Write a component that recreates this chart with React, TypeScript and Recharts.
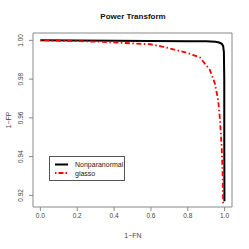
import { LineChart, Line, XAxis, YAxis, ReferenceArea } from "recharts";

const npnX = [0, 0.2, 0.4, 0.6, 0.8, 0.9, 0.95, 0.97, 0.985, 0.992, 0.996, 0.998, 0.998, 0.999];
const npnY = [1.0, 0.9999, 0.9998, 0.9997, 0.9996, 0.9995, 0.9993, 0.9989, 0.9982, 0.997, 0.994, 0.98, 0.95, 0.917];

const glassoX = [0, 0.1, 0.2, 0.32, 0.486, 0.595, 0.667, 0.794, 0.866, 0.92, 0.947, 0.965, 0.975, 0.984, 0.989, 0.992];
const glassoY = [1.0, 0.9998, 0.9996, 0.9993, 0.9985, 0.998, 0.9967, 0.9936, 0.9912, 0.9847, 0.9778, 0.9691, 0.9588, 0.945, 0.9313, 0.9157];

const xTicks = [0, 0.2, 0.4, 0.6, 0.8, 1.0];
const yTicks = [0.92, 0.94, 0.96, 0.98, 1.0];

const npnData = npnX.map((x, i) => ({ x, y: npnY[i] }));
const glassoData = glassoX.map((x, i) => ({ x, y: glassoY[i] }));

const font = "'Liberation Sans', Arial, sans-serif";

function YTick({ x, y, payload }: any) {
  const cx = x - 4;
  return (
    <text
      x={cx}
      y={y}
      transform={`rotate(-90, ${cx}, ${y})`}
      textAnchor="middle"
      fontSize={6.5}
      fill="#444"
      fontFamily={font}
    >
      {Number(payload.value).toFixed(2)}
    </text>
  );
}

function LegendBox() {
  return (
    <div
      style={{
        position: "absolute",
        left: 49,
        top: 156,
        width: 76,
        height: 25,
        border: "1px solid #555",
        boxSizing: "border-box",
        background: "white",
      }}
    >
      <svg width={74} height={23} style={{ position: "absolute", left: 0, top: 0 }}>
        <line x1={5} x2={18} y1={7.5} y2={7.5} stroke="#000" strokeWidth={2} />
        <line x1={5} x2={18} y1={16} y2={16} stroke="#ff0000" strokeWidth={1.8} strokeDasharray="1.5 2 5 2" />
        <text x={25} y={10} fontSize={7} fill="#222" fontFamily={font}>Nonparanormal</text>
        <text x={25} y={18.5} fontSize={7} fill="#222" fontFamily={font}>glasso</text>
      </svg>
    </div>
  );
}

export default function App() {
  return (
    <div style={{ position: "absolute", left: 0, top: 0, width: 249, height: 249, background: "white" }}>
      <LineChart width={249} height={249} margin={{ top: 33, right: 17, bottom: 12, left: 3 }}>
        <text x={133} y={19} textAnchor="middle" fontSize={8} fontWeight="bold" fill="#111" fontFamily={font}>
          Power Transform
        </text>
        <text x={133} y={238} textAnchor="middle" fontSize={7} fill="#444" fontFamily={font}>
          1−FN
        </text>
        <text
          x={11}
          y={120}
          transform="rotate(-90, 11, 120)"
          textAnchor="middle"
          fontSize={7}
          fill="#444"
          fontFamily={font}
        >
          1−FP
        </text>
        <XAxis
          dataKey="x"
          type="number"
          domain={[-0.04, 1.04]}
          ticks={xTicks}
          allowDataOverflow
          height={30}
          axisLine={false}
          tickLine={{ stroke: "#888" }}
          tickSize={4}
          tick={{ fontSize: 6.5, fill: "#444", fontFamily: font }}
          tickFormatter={(v: number) => v.toFixed(1)}
        />
        <YAxis
          dataKey="y"
          type="number"
          domain={[0.914, 1.0038]}
          ticks={yTicks}
          allowDataOverflow
          width={30}
          axisLine={false}
          tickLine={{ stroke: "#888" }}
          tickSize={4}
          tick={<YTick />}
        />
        <ReferenceArea
          x1={-0.04}
          x2={1.04}
          y1={0.914}
          y2={1.0038}
          fill="none"
          stroke="#888"
          strokeWidth={1}
          ifOverflow="visible"
        />
        <Line
          data={npnData}
          dataKey="y"
          type="linear"
          stroke="#000"
          strokeWidth={2}
          dot={false}
          isAnimationActive={false}
        />
        <Line
          data={glassoData}
          dataKey="y"
          type="linear"
          stroke="#ff0000"
          strokeWidth={1.8}
          strokeDasharray="1.5 2.5 5 2.5"
          dot={false}
          isAnimationActive={false}
        />
      </LineChart>
      <LegendBox />
    </div>
  );
}
